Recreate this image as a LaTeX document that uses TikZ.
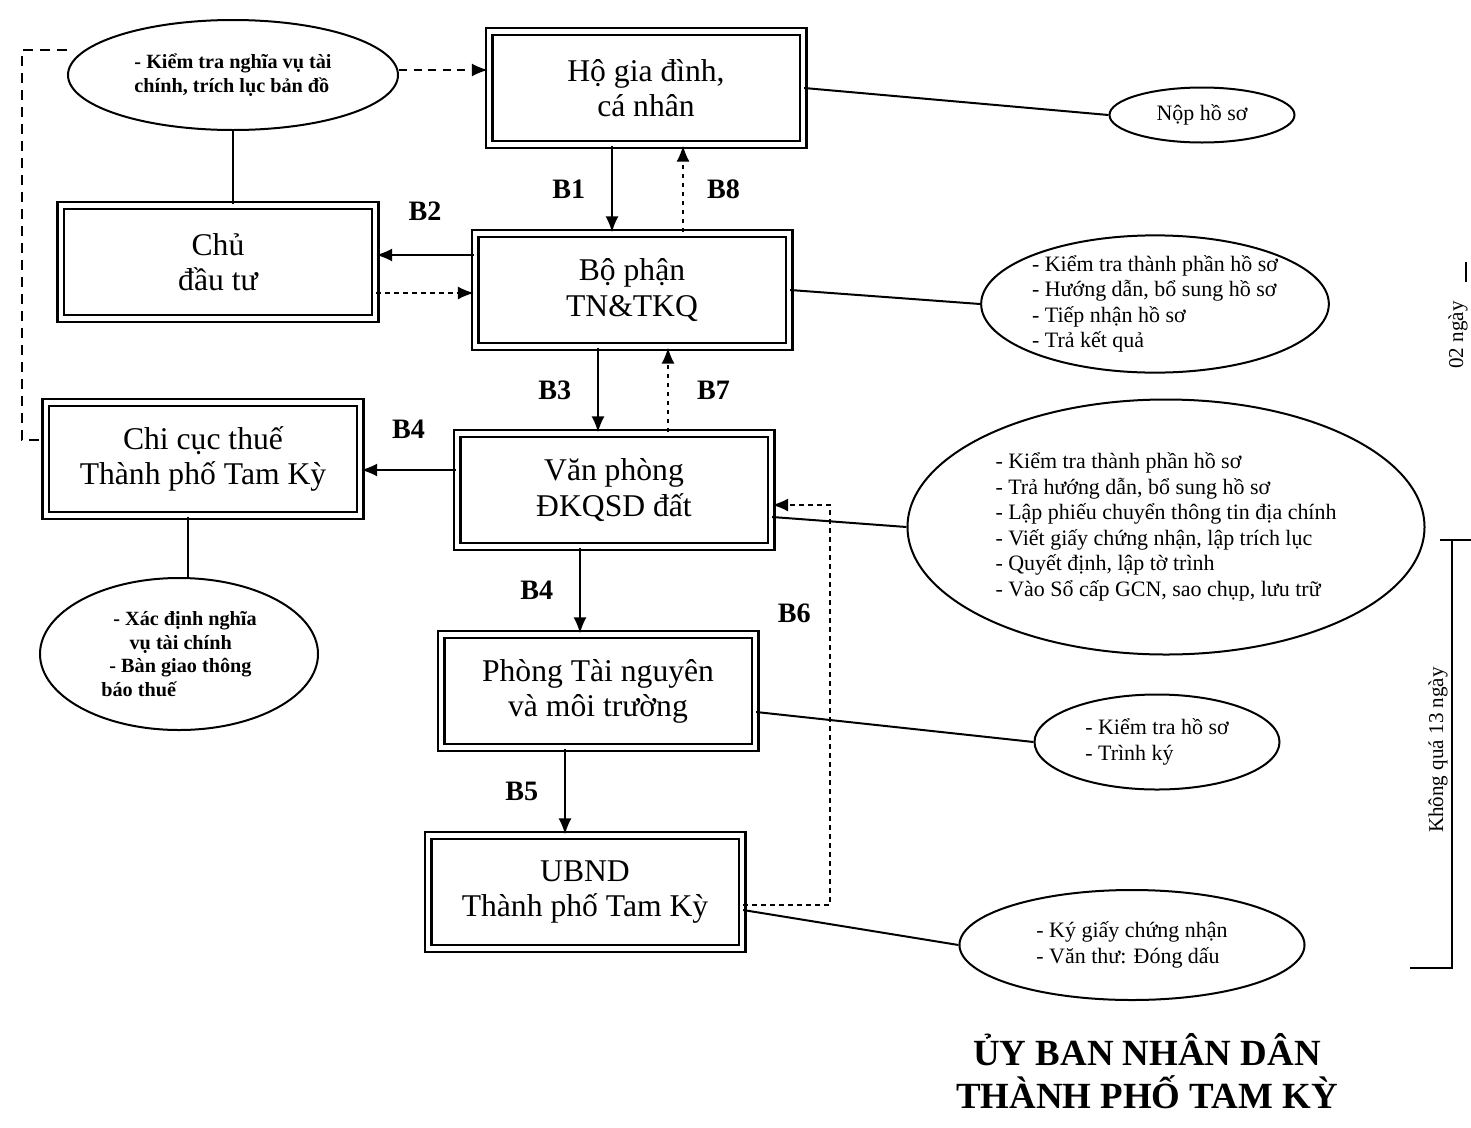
\documentclass[tikz,border=0pt]{standalone}
\usepackage{fontspec}
\setmainfont{Liberation Serif}
\usetikzlibrary{shapes.geometric,arrows.meta,calc}

\begin{document}
\begin{tikzpicture}[x=0.2mm,y=-0.2mm,
	hop/.style={draw=black,double,double distance=0.9mm,line width=0.45mm,minimum width=62.8mm,minimum height=22.6mm,align=center,font=\fontsize{18}{20}\selectfont},
	vong/.style={shape=ellipse,draw=black,line width=0.4mm,align=left,inner sep=0pt,font=\fontsize{12.5}{14.5}\selectfont},
	nhan/.style={font=\fontsize{16}{18}\selectfont\bfseries},
	tde/.style={font=\fontsize{21}{24}\selectfont\bfseries,inner sep=1pt},
	mui/.style={-{Latex[length=3.2mm,width=2.6mm]},line width=0.4mm},
	cham/.style={-{Latex[length=3.2mm,width=2.6mm]},line width=0.35mm,dash pattern=on 0.9mm off 0.9mm},
	gach/.style={line width=0.4mm,dash pattern=on 2mm off 1.4mm},
	noi/.style={line width=0.4mm}]
	\useasboundingbox (0,0) rectangle (1471,1127);

	\node[hop] (hgd)    at (646, 88)  {Hộ gia đình,\\cá nhân};
	\node[hop] (cdt)    at (218, 262) {Chủ\\đầu tư};
	\node[hop] (bp)     at (632, 290) {Bộ phận\\TN\&TKQ};
	\node[hop] (ccthue) at (203, 459) {Chi cục thuế\\Thành phố Tam Kỳ};
	\node[hop] (vp)     at (614, 490) {Văn phòng\\ĐKQSD đất};
	\node[hop] (ptn)    at (598, 691) {Phòng Tài nguyên\\và môi trường};
	\node[hop] (ubnd)   at (585, 892) {UBND\\Thành phố Tam Kỳ};

	\node[vong,minimum width=66mm,minimum height=22mm,font=\fontsize{11.5}{13.5}\selectfont\bfseries] (e1) at (233, 75)
		{- Kiểm tra nghĩa vụ tài\\chính, trích lục bản đồ};
	\node[vong,minimum width=37mm,minimum height=11mm] (e2) at (1202, 115) {Nộp hồ sơ};
	\node[vong,minimum width=66mm,minimum height=26.4mm] (e3) at (1155, 304)
		{- Kiểm tra thành phần hồ sơ\\- Hướng dẫn, bổ sung hồ sơ\\- Tiếp nhận hồ sơ\\- Trả kết quả};
	\node[vong,minimum width=103.4mm,minimum height=51mm] (e4) at (1166, 527)
		{- Kiểm tra thành phần hồ sơ\\- Trả hướng dẫn, bổ sung hồ sơ\\- Lập phiếu chuyển thông tin địa chính\\- Viết giấy chứng nhận, lập trích lục\\- Quyết định, lập tờ trình\\- Vào Sổ cấp GCN, sao chụp, lưu trữ};
	\node[vong,minimum width=55.6mm,minimum height=30.4mm,font=\fontsize{11.5}{13.5}\selectfont\bfseries] (e5) at (179, 654)
		{\hspace*{0.6em}- Xác định nghĩa\\\hspace*{1.4em}vụ tài chính\\\hspace*{0.4em}- Bàn giao thông\\báo thuế\hspace*{2.5em}};
	\node[vong,minimum width=49mm,minimum height=19mm] (e6) at (1157, 742)
		{- Kiểm tra hồ sơ\\- Trình ký};
	\node[vong,minimum width=69mm,minimum height=22mm] (e7) at (1132, 945)
		{- Ký giấy chứng nhận\\- Văn thư: Đóng dấu};

	% cac buoc
	\draw[mui] ($(hgd.south)+(-34,0)$) coordinate (b1) -- (b1 |- bp.north)
		node[nhan,midway,left=4mm] {B1};
	\draw[cham] ($(bp.north)+(51,0)$) coordinate (b8) -- (b8 |- hgd.south)
		node[nhan,midway,right=3.5mm] {B8};
	\draw[mui] ($(bp.west)+(0,-35)$) coordinate (b2) -- (b2 -| cdt.east)
		node[nhan,midway,above=5.5mm] {B2};
	\draw[cham] ($(cdt.east)+(0,31)$) coordinate (b2v) -- (b2v -| bp.west);
	\draw[mui] ($(bp.south)+(-34,0)$) coordinate (b3) -- (b3 |- vp.north)
		node[nhan,midway,left=4mm] {B3};
	\draw[cham] ($(vp.north)+(54,0)$) coordinate (b7) -- (b7 |- bp.south)
		node[nhan,midway,right=4.5mm] {B7};
	\draw[mui] ($(vp.west)+(0,-20)$) coordinate (b4) -- (b4 -| ccthue.east)
		node[nhan,midway,above=5mm] {B4};
	\draw[mui] ($(vp.south)+(-34,0)$) coordinate (b4d) -- (b4d |- ptn.north)
		node[nhan,midway,left=4mm] {B4};
	\draw[mui] ($(ptn.south)+(-33,0)$) coordinate (b5) -- (b5 |- ubnd.north)
		node[nhan,midway,left=4mm] {B5};
	\draw[cham] ($(ubnd.east)+(0,13)$) -- (830,905) -- (830,505)
		node[nhan,pos=0.73,left=2.5mm] {B6} -- ($(vp.east)+(0,15)$);

	% duong noi voi cac vong
	\draw[cham,line width=0.4mm,dash pattern=on 1.6mm off 1.3mm] ($(e1.east)+(0,-5)$) -- ($(hgd.west)+(0,-18)$);
	\draw[gach] ($(e1.west)+(0,-25)$) -- (22,50) -- (22,440) -- ($(ccthue.west)+(0,-19)$);
	\draw[noi] (e1.south) -- (e1.south |- cdt.north);
	\draw[noi] (hgd.east) -- (e2.west);
	\draw[noi] (bp.east) -- (e3.west);
	\draw[noi] ($(vp.east)+(0,27)$) -- (e4.west);
	\draw[noi] ($(ccthue.south)+(-15,0)$) coordinate (tx) -- (tx |- e5.north);
	\draw[noi] ($(ptn.east)+(0,21)$) -- (e6.west);
	\draw[noi] ($(ubnd.east)+(0,18)$) -- (e7.west);

	\node[tde] (tieude1) at (1147, 1050) {ỦY BAN NHÂN DÂN};
	\node[tde] (tieude2) at (1147, 1092) {THÀNH PHỐ TAM KỲ};

	% thoi gian
	\node[rotate=90,font=\fontsize{12}{14}\selectfont] (haingay) at (1458, 335) {02 ngày};
	\draw[noi] (1466, 262) -- (1466, 282);
	\node[rotate=90,font=\fontsize{12}{14}\selectfont] (muoiba) at (1438, 750) {Không quá 13 ngày};
	\draw[noi] (1440, 540) -- (1471, 540);
	\draw[noi] (1452, 540) -- (1452, 968) -- (1410, 968);
\end{tikzpicture}
\end{document}
